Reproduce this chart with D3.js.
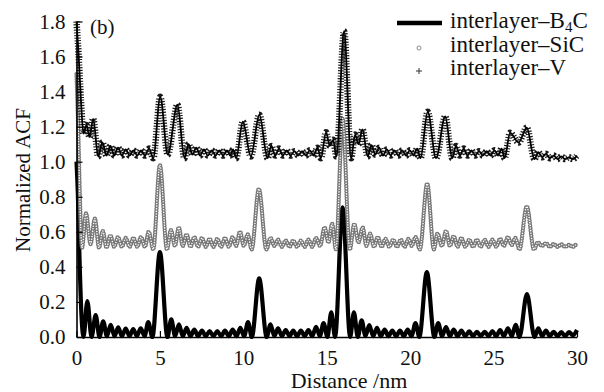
<!DOCTYPE html>
<html>
<head>
<meta charset="utf-8">
<script src="https://cdn.jsdelivr.net/npm/d3@7"></script>
</head>
<body style="margin:0">
<svg id="chart" width="604" height="392"></svg>
<script>
// tick values
var xTicks = [0, 5, 10, 15, 20, 25, 30];
var yTicks = [0, 0.2, 0.4, 0.6, 0.8, 1.0, 1.2, 1.4, 1.6, 1.8];

// legend labels
var seriesNames = ["interlayer\u2013B", "interlayer\u2013SiC", "interlayer\u2013V"];

// [distance nm, normalized ACF] (peaks and troughs)
var b4cPoints = [[0,1.0],[0.08,0.82],[0.18,0.45],[0.3,0.12],[0.42,0],
  [0.65,0.205],[0.9,0],[1.15,0.125],[1.38,0],[1.6,0.09],[1.82,0.005],[2.05,0.07],[2.28,0.005],[2.5,0.055],[2.72,0.005],[2.95,0.048],[3.18,0.005],[3.4,0.045],[3.62,0.005],[3.85,0.05],[4.08,0.005],[4.3,0.085],[4.55,0],
  [5.0,0.485],
  [5.45,0],[5.68,0.1],[5.91,0.005],[6.14,0.072],[6.37,0.005],[6.6,0.052],[6.83,0.005],[7.06,0.042],[7.29,0.005],[7.52,0.036],[7.75,0.005],[7.98,0.034],[8.21,0.005],[8.44,0.034],[8.67,0.005],[8.9,0.036],[9.13,0.005],[9.36,0.042],[9.59,0.005],[9.82,0.052],[10.05,0.005],[10.28,0.085],[10.51,0],
  [10.95,0.335],
  [11.4,0],[11.63,0.072],[11.86,0.005],[12.08,0.05],[12.31,0.005],[12.54,0.04],[12.77,0.005],[12.99,0.036],[13.22,0.005],[13.45,0.036],[13.68,0.005],[13.9,0.04],[14.13,0.005],[14.36,0.058],[14.59,0.005],[14.81,0.08],[15.04,0],[15.27,0.14],[15.5,0],
  [15.95,0.74],
  [16.4,0],[16.63,0.14],[16.86,0],[17.09,0.095],[17.32,0.005],[17.55,0.068],[17.78,0.005],[18.01,0.052],[18.24,0.005],[18.47,0.042],[18.7,0.005],[18.93,0.036],[19.16,0.005],[19.39,0.036],[19.62,0.005],[19.85,0.042],[20.08,0.005],[20.32,0.08],[20.55,0],
  [21.0,0.37],
  [21.45,0],[21.68,0.08],[21.91,0.005],[22.15,0.056],[22.38,0.005],[22.61,0.042],[22.84,0.005],[23.07,0.036],[23.3,0.005],[23.54,0.032],[23.77,0.005],[24.0,0.03],[24.23,0.005],[24.47,0.03],[24.7,0.005],[24.93,0.034],[25.16,0.005],[25.39,0.04],[25.62,0.005],[25.86,0.05],[26.09,0.005],[26.32,0.07],[26.55,0],
  [27.0,0.245],
  [27.45,0],[27.68,0.05],[27.91,0.005],[28.14,0.036],[28.37,0.005],[28.6,0.03],[28.83,0.005],[29.06,0.028],[29.29,0.005],[29.52,0.028],[29.75,0.01],[30,0.04]];

var sicPoints = [[0,1.5],[0.1,1.2],[0.2,0.8],[0.33,0.51],[0.57,0.705],[0.84,0.53],[1.1,0.675],[1.35,0.51],[1.57,0.605],[1.8,0.51],[2.03,0.58],[2.26,0.515],[2.49,0.57],[2.72,0.515],[2.95,0.565],[3.18,0.515],[3.41,0.565],[3.64,0.515],[3.87,0.57],[4.1,0.515],[4.33,0.6],[4.6,0.5],
  [5.0,0.98],
  [5.42,0.5],[5.66,0.61],[5.9,0.52],[6.13,0.625],[6.37,0.52],[6.6,0.585],[6.83,0.515],[7.06,0.57],[7.29,0.515],[7.52,0.565],[7.75,0.515],[7.98,0.56],[8.21,0.515],[8.44,0.56],[8.67,0.515],[8.9,0.565],[9.13,0.515],[9.36,0.57],[9.57,0.52],[9.8,0.6],[10.03,0.52],[10.26,0.585],[10.5,0.5],
  [10.93,0.845],
  [11.38,0.5],[11.63,0.565],[11.86,0.52],[12.08,0.555],[12.31,0.515],[12.54,0.55],[12.77,0.515],[12.99,0.55],[13.22,0.515],[13.45,0.55],[13.68,0.515],[13.9,0.555],[14.13,0.515],[14.36,0.565],[14.6,0.52],[14.87,0.625],[15.1,0.54],[15.32,0.645],[15.55,0.5],
  [15.95,1.245],
  [16.38,0.5],[16.65,0.645],[16.9,0.54],[17.15,0.625],[17.38,0.52],[17.6,0.59],[17.83,0.515],[18.06,0.57],[18.29,0.515],[18.52,0.56],[18.75,0.515],[18.98,0.555],[19.21,0.515],[19.44,0.555],[19.67,0.515],[19.9,0.56],[20.1,0.52],[20.32,0.57],[20.58,0.5],
  [21.02,0.875],
  [21.42,0.5],[21.64,0.59],[21.9,0.52],[22.15,0.605],[22.38,0.52],[22.61,0.575],[22.84,0.515],[23.07,0.565],[23.3,0.515],[23.54,0.555],[23.77,0.515],[24.0,0.555],[24.23,0.515],[24.47,0.555],[24.7,0.515],[24.93,0.555],[25.16,0.515],[25.39,0.56],[25.62,0.52],[25.86,0.57],[26.09,0.525],[26.3,0.565],[26.55,0.5],
  [26.99,0.745],
  [27.42,0.5],[27.65,0.54],[27.9,0.52],[28.14,0.535],[28.37,0.515],[28.6,0.53],[28.83,0.515],[29.06,0.528],[29.29,0.515],[29.52,0.525],[29.75,0.515],[30,0.535]];

var vPoints = [[0,1.8],[0.12,1.62],[0.26,1.36],[0.42,1.16],[0.6,1.21],[0.78,1.14],[1.0,1.245],[1.3,1.03],[1.55,1.11],[1.8,1.035],[2.03,1.09],[2.26,1.035],[2.49,1.08],[2.72,1.035],[2.95,1.07],[3.18,1.035],[3.41,1.065],[3.64,1.035],[3.87,1.065],[4.1,1.035],[4.35,1.075],[4.6,1.02],
  [5.02,1.37],[5.47,1.04],[6.05,1.325],[6.47,1.02],
  [6.72,1.1],[6.95,1.04],[7.18,1.08],[7.41,1.035],[7.64,1.07],[7.87,1.035],[8.1,1.065],[8.33,1.035],[8.56,1.065],[8.79,1.035],[9.02,1.065],[9.22,1.035],[9.38,1.07],[9.57,1.02],
  [9.97,1.228],[10.45,1.03],[10.96,1.268],[11.45,1.02],
  [11.68,1.09],[11.91,1.035],[12.14,1.075],[12.37,1.035],[12.6,1.065],[12.83,1.035],[13.06,1.06],[13.29,1.035],[13.52,1.06],[13.75,1.035],[13.98,1.065],[14.21,1.035],[14.44,1.08],[14.65,1.02],
  [14.96,1.168],[15.18,1.09],[15.38,1.125],[15.58,1.03],[16.04,1.745],[16.46,1.02],[16.7,1.155],[16.9,1.1],[17.14,1.185],[17.45,1.03],
  [17.68,1.095],[17.91,1.04],[18.14,1.08],[18.37,1.035],[18.6,1.07],[18.83,1.035],[19.06,1.065],[19.29,1.035],[19.52,1.065],[19.75,1.035],[19.98,1.065],[20.21,1.035],[20.42,1.075],[20.62,1.02],
  [21.05,1.285],[21.55,1.02],[22.1,1.258],[22.52,1.02],
  [22.75,1.09],[22.98,1.035],[23.21,1.075],[23.44,1.035],[23.67,1.065],[23.9,1.035],[24.13,1.06],[24.36,1.035],[24.59,1.06],[24.82,1.035],[25.05,1.065],[25.28,1.035],[25.48,1.075],[25.66,1.02],
  [25.99,1.165],[26.5,1.11],[26.99,1.195],[27.45,1.015],
  [27.68,1.055],[27.91,1.025],[28.14,1.045],[28.37,1.02],[28.6,1.035],[28.83,1.015],[29.06,1.03],[29.29,1.015],[29.52,1.025],[29.75,1.015],[30,1.035]];

var svg = d3.select("#chart");
var serif = "'Liberation Serif'";

var x = d3.scaleLinear().domain([0, 30]).range([76.5, 577]);
var y = d3.scaleLinear().domain([0, 1.8]).range([337, 21.5]);

var line = d3.line()
  .x(function(d) { return x(d[0]); })
  .y(function(d) { return y(d[1]); })
  .curve(d3.curveMonotoneX);

// B4C: thick black line
svg.append("path")
  .attr("d", line(b4cPoints))
  .attr("fill", "none")
  .attr("stroke", "#000")
  .attr("stroke-width", 4.2)
  .attr("stroke-linejoin", "round");

// SiC: chain of small open circles
svg.append("path")
  .attr("d", line(sicPoints))
  .attr("fill", "none")
  .attr("stroke", "#777")
  .attr("stroke-width", 4.4)
  .attr("stroke-linecap", "round")
  .attr("stroke-dasharray", "0 2.6");
svg.append("path")
  .attr("d", line(sicPoints))
  .attr("fill", "none")
  .attr("stroke", "#fff")
  .attr("stroke-width", 1.6)
  .attr("stroke-linecap", "round")
  .attr("stroke-dasharray", "0 2.6");

// V: plus markers (cross bars + centre line)
svg.append("path")
  .attr("d", line(vPoints))
  .attr("fill", "none")
  .attr("stroke", "#000")
  .attr("stroke-width", 6.5)
  .attr("stroke-opacity", 0.9)
  .attr("stroke-dasharray", "1.1 1.6");
svg.append("path")
  .attr("d", line(vPoints))
  .attr("fill", "none")
  .attr("stroke", "#000")
  .attr("stroke-width", 1.8);

// axes
var yAxis = d3.axisLeft(y)
  .tickValues(yTicks)
  .tickSize(-6)
  .tickSizeOuter(0)
  .tickPadding(11)
  .tickFormat(d3.format(".1f"));

var xAxis = d3.axisBottom(x)
  .tickValues(xTicks)
  .tickSize(-6)
  .tickSizeOuter(0)
  .tickPadding(13)
  .tickFormat(d3.format("d"));

var gy = svg.append("g").attr("transform", "translate(76.5,0)").call(yAxis);
var gx = svg.append("g").attr("transform", "translate(0,337)").call(xAxis);

[gx, gy].forEach(function(g) {
  g.attr("font-family", null).attr("font-size", null);
  g.select(".domain").attr("stroke", "#000").attr("stroke-width", 1.6);
  g.selectAll(".tick line").attr("stroke", "#000").attr("stroke-width", 1.2);
  g.selectAll("text")
    .attr("fill", "#111")
    .attr("font-size", 21)
    .style("font-family", serif);
});

// axis titles
svg.append("text")
  .attr("transform", "translate(30,180) rotate(-90)")
  .attr("text-anchor", "middle")
  .attr("font-size", 21)
  .attr("fill", "#111")
  .style("font-family", serif)
  .text("Normalized ACF");

svg.append("text")
  .attr("x", 349)
  .attr("y", 388)
  .attr("text-anchor", "middle")
  .attr("font-size", 22)
  .attr("fill", "#111")
  .style("font-family", serif)
  .text("Distance /nm");

svg.append("text")
  .attr("x", 90)
  .attr("y", 34)
  .attr("font-size", 21)
  .attr("fill", "#111")
  .style("font-family", serif)
  .text("(b)");

// legend
var legend = svg.append("g");
legend.append("line")
  .attr("x1", 397).attr("x2", 442)
  .attr("y1", 23).attr("y2", 23)
  .attr("stroke", "#000").attr("stroke-width", 4.5);
legend.append("circle")
  .attr("cx", 419).attr("cy", 48).attr("r", 2)
  .attr("fill", "none").attr("stroke", "#888").attr("stroke-width", 1);
legend.append("path")
  .attr("d", "M416,71H422M419,68V74")
  .attr("stroke", "#333").attr("stroke-width", 1);

var t0 = legend.append("text").attr("x", 450).attr("y", 28)
  .attr("font-size", 23).attr("fill", "#111").style("font-family", serif);
t0.append("tspan").text(seriesNames[0]);
t0.append("tspan").attr("dy", 4).attr("font-size", 15).text("4");
t0.append("tspan").attr("dy", -4).text("C");

legend.append("text").attr("x", 450).attr("y", 52)
  .attr("font-size", 23).attr("fill", "#111").style("font-family", serif)
  .text(seriesNames[1]);
legend.append("text").attr("x", 450).attr("y", 75)
  .attr("font-size", 23).attr("fill", "#111").style("font-family", serif)
  .text(seriesNames[2]);
</script>
</body>
</html>
